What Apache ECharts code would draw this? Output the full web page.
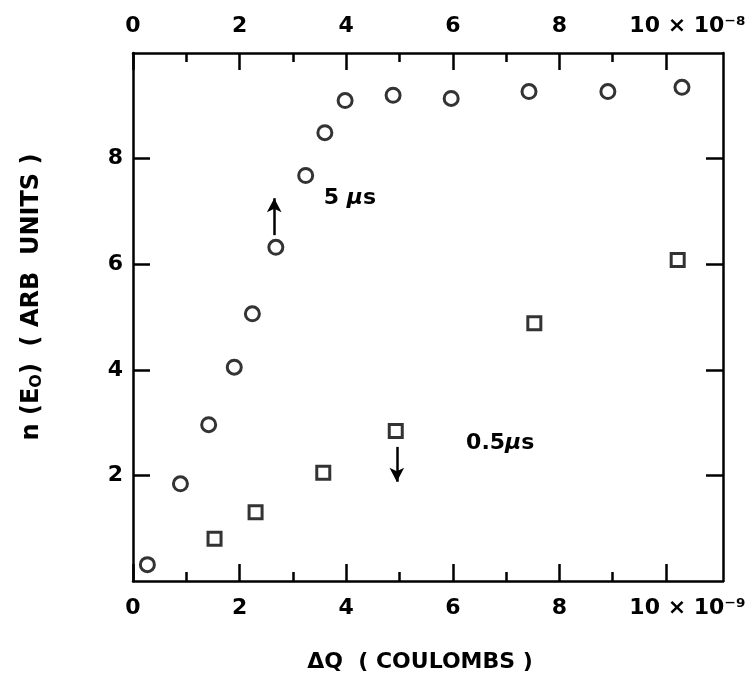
<!DOCTYPE html>
<html>
<head>
<meta charset="utf-8">
<script src="https://cdn.jsdelivr.net/npm/echarts@6/dist/echarts.min.js"></script>
<style>
  html, body { margin: 0; padding: 0; background: #fff; }
  #chart { width: 755px; height: 688px; }
</style>
</head>
<body>
<div id="chart"></div>
<script>
// delta Q in units of 1e-9 C, n(E0) arb units
var pulse5us = [
  [0.27, 0.31], [0.89, 1.84], [1.42, 2.96], [1.90, 4.05], [2.24, 5.06],
  [2.68, 6.32], [3.24, 7.68], [3.60, 8.49], [3.98, 9.10], [4.88, 9.20],
  [5.97, 9.14], [7.43, 9.27], [8.91, 9.27], [10.30, 9.35]
];
var pulse05us = [
  [1.53, 0.80], [2.30, 1.30], [3.57, 2.05], [4.93, 2.84], [7.53, 4.88], [10.22, 6.08]
];
var xMajor = [0, 2, 4, 6, 8, 10];
var xMinor = [1, 3, 5, 7, 9];
var yMajor = [2, 4, 6, 8];
var arrowUp = [[2.65, 6.55], [2.65, 7.25]];
var arrowDown = [[4.95, 2.54], [4.95, 1.88]];
var label5 = [4.07, 7.25];
var label05 = [6.89, 2.61];

var FONT = 'DejaVu Sans';
var ink = '#000';
var X_MAX = 11.07;

var chartDom = document.getElementById('chart');
var chart = echarts.init(chartDom);
var option;

function xLabelFmt(exp) {
  return function (v) {
    if (v === 10) return '{pad| }{t|10 × 10' + exp + '}';
    return '{t|' + v + '}';
  };
}
var labelRich = {
  t: { fontFamily: FONT, fontSize: 22, fontWeight: 'bold', color: ink },
  pad: { width: 43 }
};
var lineStyle = { color: ink, width: 2.5 };

function xAxisMain(pos, exp, withName) {
  var ax = {
    type: 'value',
    position: pos,
    min: 0,
    max: X_MAX,
    axisLine: { show: true, onZero: false, lineStyle: lineStyle },
    axisTick: { show: true, inside: true, length: 17, customValues: xMajor, lineStyle: lineStyle },
    axisLabel: { show: true, customValues: xMajor, margin: 16, formatter: xLabelFmt(exp), rich: labelRich },
    splitLine: { show: false }
  };
  if (withName) {
    ax.name = 'ΔQ  ( COULOMBS )';
    ax.nameLocation = 'middle';
    ax.nameGap = 70;
    ax.nameTextStyle = { fontFamily: FONT, fontSize: 22, fontWeight: 'bold', color: ink, padding: [0, 16, 0, 0] };
  }
  return ax;
}
function xAxisMinor(pos) {
  return {
    type: 'value',
    position: pos,
    min: 0,
    max: X_MAX,
    axisLine: { show: false, onZero: false },
    axisTick: { show: true, inside: true, length: 9, customValues: xMinor, lineStyle: lineStyle },
    axisLabel: { show: false },
    splitLine: { show: false }
  };
}
function yAxis(pos, withLabels) {
  var ax = {
    type: 'value',
    position: pos,
    min: 0,
    max: 10,
    axisLine: { show: true, onZero: false, lineStyle: lineStyle },
    axisTick: { show: true, inside: true, length: 17, customValues: yMajor, lineStyle: lineStyle },
    axisLabel: { show: false },
    splitLine: { show: false }
  };
  if (withLabels) {
    ax.axisLabel = {
      show: true, customValues: yMajor, margin: 10,
      fontFamily: FONT, fontSize: 22, fontWeight: 'bold', color: ink
    };
    ax.name = '{pad| }{t|n (E}{sub|O}{t|)  ( ARB  UNITS )}';
    ax.nameLocation = 'middle';
    ax.nameGap = 88;
    ax.nameRotate = 90;
    ax.nameTextStyle = {
      rich: {
        pad: { width: 40 },
        t: { fontFamily: FONT, fontSize: 24, fontWeight: 'bold', color: ink },
        sub: { fontFamily: FONT, fontSize: 16, fontWeight: 'bold', color: ink, padding: [10, 0, 0, 0] }
      }
    };
  }
  return ax;
}

var muRich = {
  t: { fontFamily: FONT, fontSize: 22, fontWeight: 'bold', color: ink },
  mu: { fontFamily: FONT, fontSize: 22, fontWeight: 'bold', fontStyle: 'italic', color: ink }
};
function arrowLine(pts) {
  return {
    silent: true,
    symbol: ['none', 'arrow'],
    symbolSize: [11, 14],
    lineStyle: { color: ink, width: 2.5, type: 'solid' },
    label: { show: false },
    data: [[{ coord: pts[0] }, { coord: pts[1] }]]
  };
}
function textMark(pos, fmt) {
  return {
    silent: true,
    symbol: 'circle',
    symbolSize: 0,
    label: { show: true, position: 'inside', formatter: fmt, rich: muRich },
    data: [{ coord: pos }]
  };
}

option = {
  backgroundColor: '#fff',
  animation: false,
  grid: {
    left: 133, top: 53, width: 590, height: 528,
    containLabel: false, outerBoundsMode: 'none'
  },
  xAxis: [
    xAxisMain('bottom', '⁻⁹', true),
    xAxisMinor('bottom'),
    xAxisMain('top', '⁻⁸', false),
    xAxisMinor('top')
  ],
  yAxis: [yAxis('left', true), yAxis('right', false)],
  series: [
    {
      name: '5 μs',
      type: 'scatter',
      data: pulse5us,
      symbol: 'circle',
      symbolSize: 14,
      itemStyle: { color: '#fff', borderColor: ink, borderWidth: 3 },
      markLine: arrowLine(arrowUp),
      markPoint: textMark(label5, '{t|5 }{mu|μ}{t|s}')
    },
    {
      name: '0.5 μs',
      type: 'scatter',
      data: pulse05us,
      symbol: 'rect',
      symbolSize: 13,
      itemStyle: { color: '#fff', borderColor: ink, borderWidth: 3 },
      markLine: arrowLine(arrowDown),
      markPoint: textMark(label05, '{t|0.5}{mu|μ}{t|s}')
    }
  ]
};

option && chart.setOption(option);
</script>
</body>
</html>
